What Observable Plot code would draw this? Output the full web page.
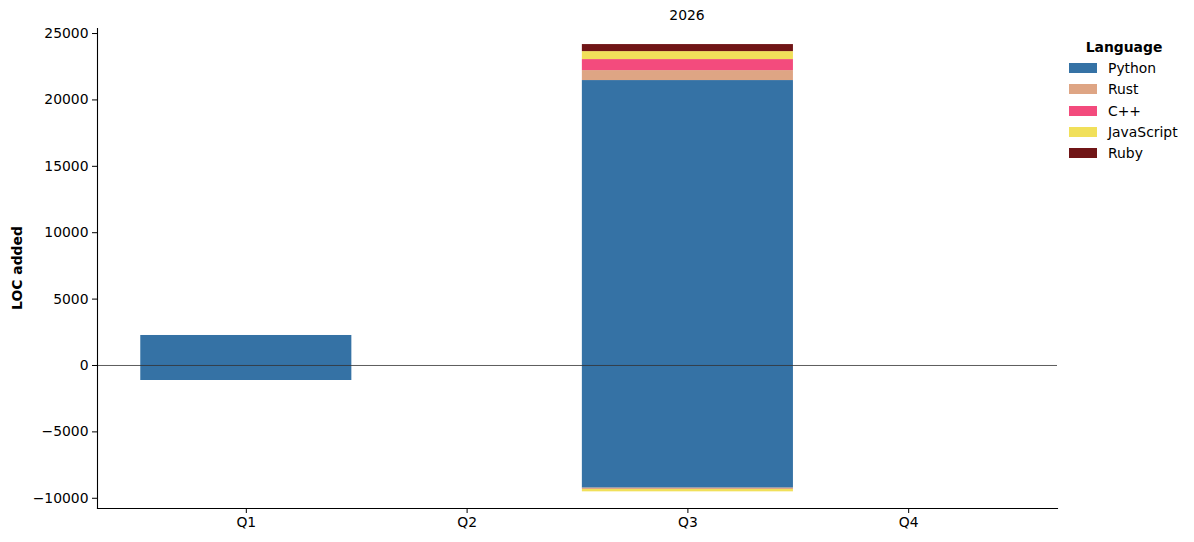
<!DOCTYPE html>
<html>
<head>
<meta charset="utf-8">
<script src="https://cdn.jsdelivr.net/npm/d3@7"></script>
<script src="https://cdn.jsdelivr.net/npm/@observablehq/plot@0.6"></script>
<style>
  body { margin: 0; background: #fff; font-family: "DejaVu Sans", sans-serif; }
  #wrap { position: relative; width: 1194px; height: 542px; }
  .abs { position: absolute; font-size: 13.9px; color: #000; white-space: nowrap; }
</style>
</head>
<body>
<div id="wrap"></div>
<script>
const quarters = ["Q1", "Q2", "Q3", "Q4"];
const languages = ["Python", "Rust", "C++", "JavaScript", "Ruby"];
const colors = ["#3572A5", "#dea584", "#f34b7d", "#f1e05a", "#701516"];
const yTicks = [-10000, -5000, 0, 5000, 10000, 15000, 20000, 25000];

// LOC added (positive) and removed (negative) per quarter / language
const rowQuarter = ["Q1", "Q1", "Q3", "Q3", "Q3", "Q3", "Q3", "Q3", "Q3", "Q3"];
const rowLang    = ["Python", "Python", "Python", "Rust", "C++", "JavaScript", "Ruby", "Python", "Rust", "JavaScript"];
const rowValue   = [2260, -1130, 21460, 750, 830, 600, 530, -9240, -100, -175];

const data = rowQuarter.map((q, i) => ({quarter: q, lang: rowLang[i], loc: rowValue[i]}));

const wrap = document.getElementById("wrap");

const chart = Plot.plot({
  width: 1194,
  height: 542,
  marginLeft: 97,
  marginRight: 137,
  marginTop: 28,
  marginBottom: 34,
  style: {fontFamily: "DejaVu Sans, sans-serif", fontSize: "13.9px", color: "#000", background: "#fff"},
  x: {domain: quarters, paddingInner: 0.044, paddingOuter: 0.196, round: false, label: null},
  y: {domain: [-10770, 25380], label: null},
  color: {domain: languages, range: colors},
  marks: [
    Plot.barY(data, Plot.stackY({
      x: "quarter", y: "loc", fill: "lang", order: languages, inset: 0
    })),
    Plot.ruleY([0], {stroke: "#333", strokeWidth: 0.8}),
    Plot.axisY({
      ticks: yTicks, tickSize: 5, tickPadding: 4, label: null,
      tickFormat: d => d < 0 ? "\u2212" + Math.abs(d) : String(d)
    }),
    Plot.axisX({tickSize: 5, tickPadding: 4, label: null}),
    Plot.frame({anchor: "left", stroke: "#000", strokeWidth: 1.1}),
    Plot.frame({anchor: "bottom", stroke: "#000", strokeWidth: 1.1})
  ]
});
wrap.appendChild(chart);

// Title
const t = document.createElement("div");
t.className = "abs";
t.textContent = "2026";
t.style.left = "687px"; t.style.top = "7px"; t.style.transform = "translateX(-50%)";
wrap.appendChild(t);

// Y label
const yl = document.createElement("div");
yl.className = "abs";
yl.textContent = "LOC added";
yl.style.fontWeight = "bold";
yl.style.left = "16.5px"; yl.style.top = "268px";
yl.style.transform = "translate(-50%, -50%) rotate(-90deg)";
wrap.appendChild(yl);

// Legend
const lt = document.createElement("div");
lt.className = "abs";
lt.textContent = "Language";
lt.style.fontWeight = "bold";
lt.style.left = "1124px"; lt.style.top = "47px"; lt.style.transform = "translate(-50%, -50%)";
wrap.appendChild(lt);

languages.forEach((lang, i) => {
  const cy = 68 + i * 21.3;
  const sw = document.createElement("div");
  sw.style.position = "absolute";
  sw.style.left = "1069px"; sw.style.top = (cy - 5) + "px";
  sw.style.width = "28px"; sw.style.height = "10px";
  sw.style.background = colors[i];
  wrap.appendChild(sw);
  const lb = document.createElement("div");
  lb.className = "abs";
  lb.textContent = lang;
  lb.style.left = "1108px"; lb.style.top = cy + "px"; lb.style.transform = "translateY(-50%)";
  wrap.appendChild(lb);
});
</script>
</body>
</html>
